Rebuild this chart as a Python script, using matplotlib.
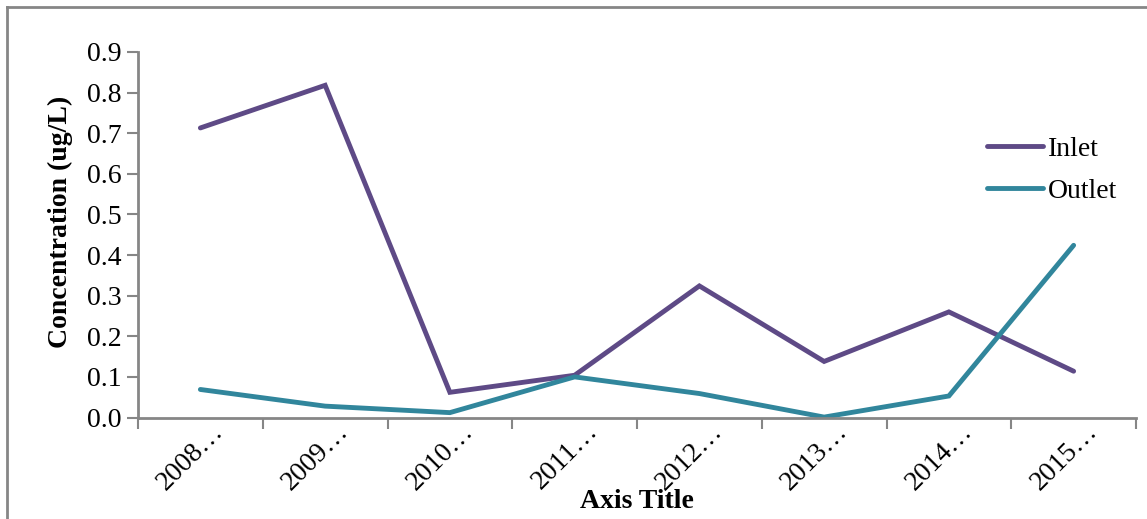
import matplotlib
matplotlib.use("Agg")
import matplotlib.pyplot as plt
import matplotlib.transforms as mtransforms
from matplotlib.lines import Line2D
import numpy as np

plt.rcParams['font.family'] = ['Liberation Serif', 'DejaVu Serif']

categories = ["2008…", "2009…", "2010…", "2011…", "2012…", "2013…", "2014…", "2015…"]
inlet = [0.713, 0.818, 0.062, 0.104, 0.324, 0.138, 0.260, 0.114]
outlet = [0.069, 0.028, 0.012, 0.100, 0.059, 0.001, 0.053, 0.424]
y_ticks = [0.0, 0.1, 0.2, 0.3, 0.4, 0.5, 0.6, 0.7, 0.8, 0.9]

inlet_color = "#5E4A86"
outlet_color = "#31869C"
axis_gray = "#868686"
FS = 20
LW = 3.5

W, H = 1147, 519
fig = plt.figure(figsize=(W / 100, H / 100), dpi=100)
ax = fig.add_axes([138 / W, 1 - 417.5 / H, (1136 - 138) / W, (417.5 - 52) / H])

x = np.arange(len(categories))
ax.plot(x, inlet, color=inlet_color, lw=LW, solid_capstyle='round', solid_joinstyle='miter', label="Inlet")
ax.plot(x, outlet, color=outlet_color, lw=LW, solid_capstyle='round', solid_joinstyle='miter', label="Outlet")

ax.set_xlim(-0.5, len(categories) - 0.5)
ax.set_ylim(0, 0.9)
ax.set_yticks(y_ticks)
ax.set_yticklabels([f"{v:.1f}" for v in y_ticks], fontsize=FS)

# category labels centred between boundary ticks
ax.set_xticks(np.arange(-0.5, len(categories), 1.0))
ax.set_xticklabels([])
ax.set_xticks(x, minor=True)
ax.set_xticklabels(categories, minor=True, rotation=45, ha='right', va='top',
                   rotation_mode='anchor', fontsize=FS)
ax.tick_params(axis='x', which='minor', length=0, pad=6)
ax.tick_params(axis='x', which='major', length=8, width=1.5, color=axis_gray, direction='out')
ax.tick_params(axis='y', length=8, width=1.5, color=axis_gray, direction='out', pad=4)

shift = mtransforms.ScaledTranslation(11 / 100, 7 / 100, fig.dpi_scale_trans)
for lbl in ax.get_xticklabels(minor=True):
    lbl.set_transform(lbl.get_transform() + shift)

for s in ['top', 'right']:
    ax.spines[s].set_visible(False)
for s in ['left', 'bottom']:
    ax.spines[s].set_color(axis_gray)
    ax.spines[s].set_linewidth(2)

fig.text(60 / W, 1 - 222 / H, "Concentration (ug/L)", fontsize=FS, fontweight='bold',
         rotation=90, ha='center', va='center')
fig.text(637 / W, 1 - 502 / H, "Axis Title", fontsize=FS,
         fontweight='bold', ha='center', va='center')

handles = [Line2D([], [], color=inlet_color, lw=LW, solid_capstyle='round'),
           Line2D([], [], color=outlet_color, lw=LW, solid_capstyle='round')]
leg = fig.legend(handles, ["Inlet", "Outlet"], loc='center left',
                 bbox_to_anchor=(987 / W, 1 - 170 / H), frameon=False, fontsize=FS,
                 handlelength=2.0, handletextpad=0.2, labelspacing=0.6,
                 borderpad=0, borderaxespad=0)

# outer chart border
fig.add_artist(Line2D([7 / W, 7 / W], [0, 1 - 6.5 / H], transform=fig.transFigure,
                      color=axis_gray, lw=2))
fig.add_artist(Line2D([7 / W, 1], [1 - 6.5 / H, 1 - 6.5 / H], transform=fig.transFigure,
                      color=axis_gray, lw=2))

fig.savefig("out.png", dpi=100, facecolor='white')
